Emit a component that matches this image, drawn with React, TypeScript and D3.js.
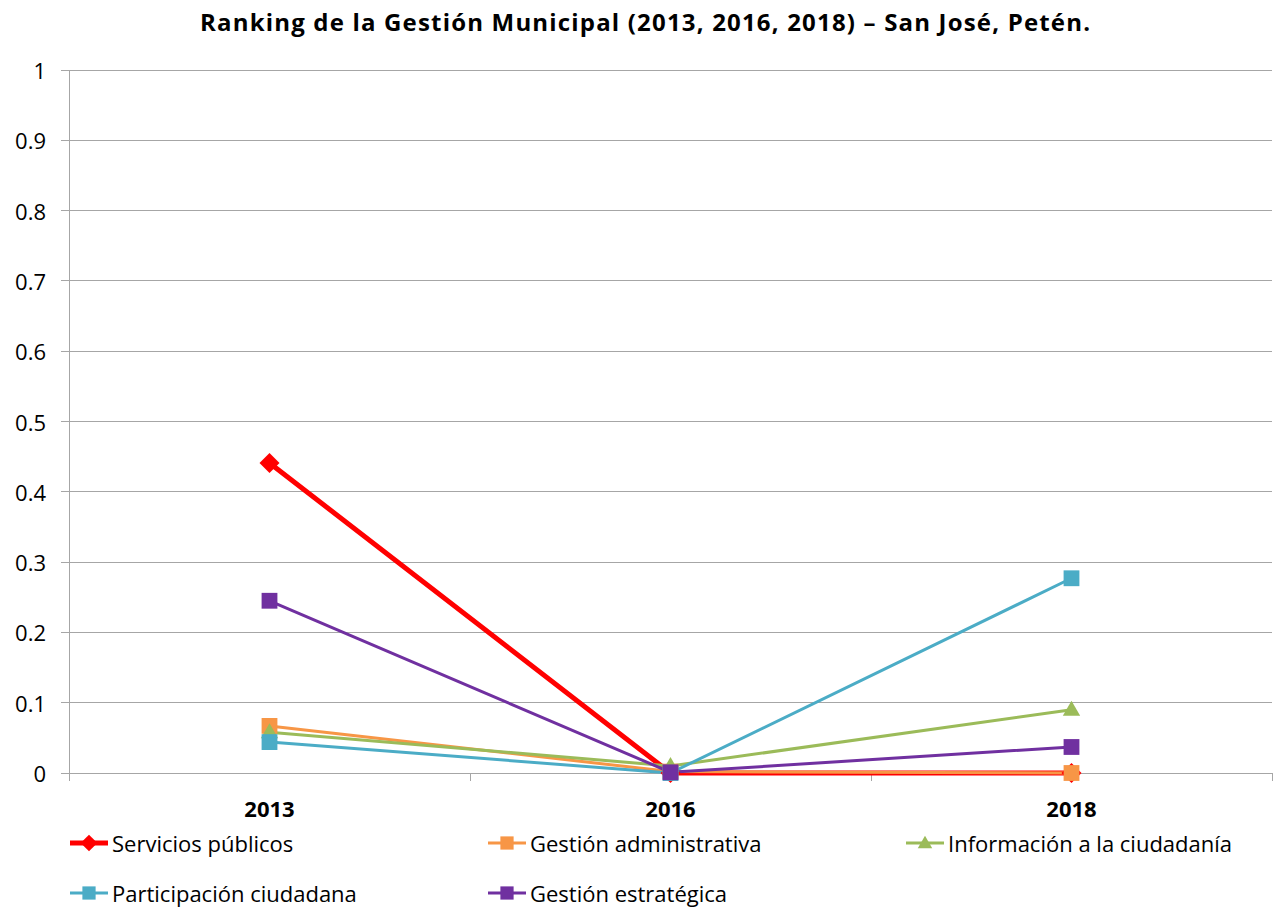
import React from "react";
import { scaleBand, scaleLinear, line, range, symbol, symbolSquare, symbolTriangle } from "d3";

const years = ["2013", "2016", "2018"];
const yTicks = [0, 0.1, 0.2, 0.3, 0.4, 0.5, 0.6, 0.7, 0.8, 0.9, 1];

const serviciosPublicos = [0.441, 0, 0];
const gestionAdministrativa = [0.067, 0.002, 0];
const informacionCiudadania = [0.058, 0.01, 0.09];
const participacionCiudadana = [0.044, 0, 0.277];
const gestionEstrategica = [0.245, 0.001, 0.037];

const series = [
  { name: "Servicios públicos", values: serviciosPublicos, color: "#ff0000", width: 5, shape: "diamond" },
  { name: "Gestión administrativa", values: gestionAdministrativa, color: "#f79646", width: 3, shape: "square" },
  { name: "Información a la ciudadanía", values: informacionCiudadania, color: "#9bbb59", width: 3, shape: "triangle" },
  { name: "Participación ciudadana", values: participacionCiudadana, color: "#4bacc6", width: 3, shape: "square" },
  { name: "Gestión estratégica", values: gestionEstrategica, color: "#7030a0", width: 3, shape: "square" },
];

const W = 1277;
const H = 908;
const m = { left: 69, right: 1272, top: 70, bottom: 773 };
const font = "'Open Sans', 'Noto Sans', sans-serif";

// marker shapes; diamond = rotated square
function marker(shape: string, color: string, tx: number, ty: number, k: number, key?: number) {
  if (shape === "triangle") {
    return <path key={key} d={symbol(symbolTriangle, 130 * k)() as string} transform={`translate(${tx},${ty + 1})`} fill={color} />;
  }
  if (shape === "diamond") {
    return <path key={key} d={symbol(symbolSquare, 200 * k)() as string} transform={`translate(${tx},${ty}) rotate(45)`} fill={color} />;
  }
  return <path key={key} d={symbol(symbolSquare, 250 * k)() as string} transform={`translate(${tx},${ty})`} fill={color} />;
}

export default function App() {
  const x = scaleBand().domain(years).range([m.left, m.right]);
  const y = scaleLinear().domain([0, 1]).range([m.bottom, m.top]);
  const cx = (d: string) => (x(d) as number) + x.bandwidth() / 2;
  const lineGen = line<number>()
    .x((_, i) => cx(years[i]))
    .y((v) => y(v));
  const bandEdges = range(years.length + 1).map((i) => m.left + i * x.bandwidth());

  const legendCols = [70, 488, 906];
  const legendRows = [843, 893];

  return (
    <svg width={W} height={H} style={{ position: "absolute", left: 0, top: 0, background: "#fff" }}>
      <text x={645} y={31} textAnchor="middle" fontFamily={font} fontWeight="bold" fontSize={24} fill="#000"
        textLength={890} lengthAdjust="spacing">
        Ranking de la Gestión Municipal (2013, 2016, 2018) – San José, Petén.
      </text>

      {yTicks.map((t) => (
        <g key={t}>
          <line x1={m.left - 8} x2={m.right} y1={y(t)} y2={y(t)} stroke="#a6a6a6" strokeWidth={1} shapeRendering="crispEdges" />
          <text x={46} y={y(t)} textAnchor="end" dominantBaseline="central" fontFamily={font} fontSize={22} fill="#000">
            {t}
          </text>
        </g>
      ))}
      <line x1={m.left} x2={m.left} y1={m.top} y2={m.bottom} stroke="#a6a6a6" shapeRendering="crispEdges" />
      {bandEdges.map((bx, i) => (
        <line key={i} x1={bx} x2={bx} y1={m.bottom} y2={m.bottom + 8} stroke="#a6a6a6" shapeRendering="crispEdges" />
      ))}
      {years.map((yr) => (
        <text key={yr} x={cx(yr)} y={808} textAnchor="middle" dominantBaseline="central" fontFamily={font} fontWeight="bold" fontSize={22} fill="#000">
          {yr}
        </text>
      ))}

      {series.map((s) => (
        <path key={s.name} d={lineGen(s.values) as string} fill="none" stroke={s.color} strokeWidth={s.width} strokeLinejoin="round" />
      ))}
      {series.map((s) => (
        <g key={s.name}>{s.values.map((v, i) => marker(s.shape, s.color, cx(years[i]), y(v), 1, i))}</g>
      ))}

      {series.map((s, i) => {
        const lx = legendCols[i % 3];
        const ly = legendRows[Math.floor(i / 3)];
        return (
          <g key={s.name}>
            <line x1={lx} x2={lx + 38} y1={ly} y2={ly} stroke={s.color} strokeWidth={s.width} />
            {marker(s.shape, s.color, lx + 19, ly, 0.7)}
            <text x={lx + 42} y={ly} dominantBaseline="central" fontFamily={font} fontSize={22} fill="#000">
              {s.name}
            </text>
          </g>
        );
      })}
    </svg>
  );
}
